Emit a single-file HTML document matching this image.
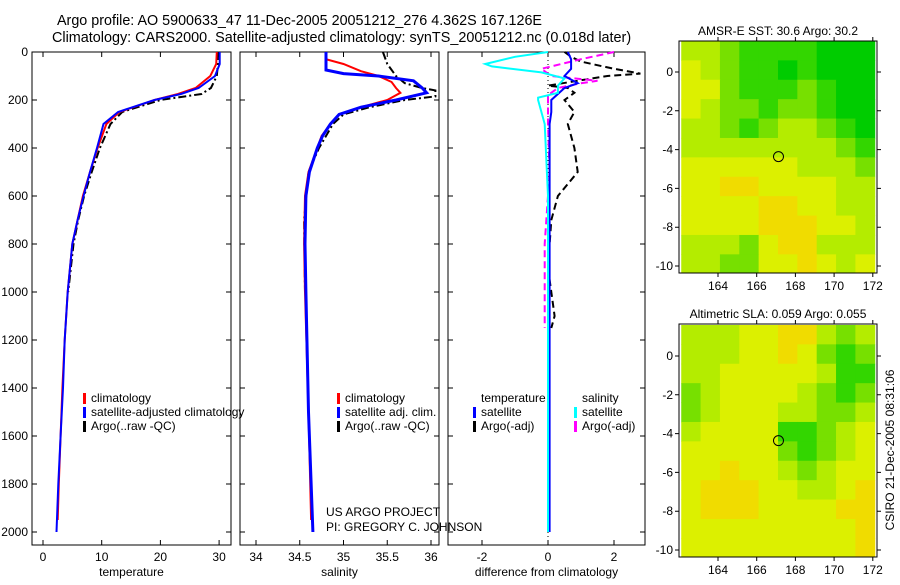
<!DOCTYPE html>
<html><head><meta charset="utf-8"><style>
body{margin:0;background:#fff;width:900px;height:580px;overflow:hidden}
svg text{font-family:"Liberation Sans",sans-serif;font-size:12px;fill:#000}
svg text.tt{font-size:14.4px}
</style></head><body>
<svg id="chart" width="900" height="580" xmlns="http://www.w3.org/2000/svg">
<text class="tt" x="57" y="25" textLength="485" lengthAdjust="spacingAndGlyphs">Argo profile: AO 5900633_47 11-Dec-2005 20051212_276 4.362S 167.126E</text>
<text class="tt" x="52" y="42">Climatology: CARS2000. Satellite-adjusted climatology: synTS_20051212.nc (0.018d later)</text>
<text x="326" y="516">US ARGO PROJECT</text>
<text x="326" y="531">PI: GREGORY C. JOHNSON</text>
<text transform="translate(894,450) rotate(-90)" text-anchor="middle">CSIRO 21-Dec-2005 08:31:06</text>
<g id="g"></g>
</svg>
<script>
// ---- data ----
const depthClim=[0,50,100,150,175,200,250,300,400,500,600,700,800,1000,1200,1400,1600,1800,1950];
const tempClim=[29.6,29.5,28.5,26,23,19,13,10.8,9.3,8.0,6.8,5.9,5.0,4.2,3.7,3.3,3.0,2.7,2.5];
const depthSat=[0,50,100,150,175,200,250,300,400,500,600,700,800,1000,1200,1400,1600,1800,2000];
const tempSat=[30.1,30.1,29.3,26.5,23.5,19,12.8,10.3,9.2,8.0,6.9,5.9,5.0,4.2,3.7,3.4,3.0,2.6,2.3];
const depthArgo=[0,50,100,150,175,200,250,300,400,500,600,700,800,1000];
const tempArgo=[29.8,29.8,29.6,28.6,27,20,13.5,11.5,9.7,8.3,7.0,6.0,5.2,4.3];
const salDepthClim=[0,30,50,80,100,125,150,170,200,230,260,300,350,400,500,600,800,1000,1500,1950];
const salClim=[34.8,34.8,35.0,35.2,35.4,35.55,35.6,35.65,35.5,35.2,34.95,34.85,34.75,34.7,34.6,34.56,34.55,34.56,34.6,34.63];
const salDepthSat=[0,75,90,100,120,150,170,200,230,260,300,350,400,500,600,800,1000,1500,2000];
const salSat=[34.8,34.8,35.0,35.4,35.8,35.9,35.95,35.6,35.2,34.95,34.85,34.76,34.7,34.61,34.57,34.56,34.57,34.6,34.65];
const salDepthArgo=[0,50,100,130,150,160,185,200,230,260,300,400,500,700,1000];
const salArgo=[35.45,35.5,35.6,35.7,35.9,36.05,36.05,35.7,35.3,35.0,34.88,34.72,34.6,34.55,34.56];
const dTDepthSat=[0,30,70,100,130,150,200,250,300,600,1000,1500,2000];
const dTSat=[0.6,0.7,0.7,0.5,0.9,0.5,0.1,0.1,0.05,0.05,0.05,0.05,0.05];
const dTDepthArgo=[0,20,40,70,90,100,140,150,170,200,250,300,400,500,600,700,900,1000,1100,1150];
const dTArgo=[0.5,0.7,1.0,2.0,2.8,1.8,0.0,0.6,0.8,0.5,0.8,0.6,0.8,0.9,0.3,0.1,0,0.1,0.2,0.1];
const dSDepthSat=[0,20,50,60,85,110,140,170,190,200,300,600,2000];
const dSSat=[0.0,-1.0,-1.9,-1.7,-0.2,0.5,0.3,0.3,-0.3,-0.3,-0.1,0,0];
const dSDepthArgo=[0,30,70,100,120,130,150,180,300,500,800,1000,1150];
const dSArgo=[2.0,1.0,-0.2,0.1,1.5,1.0,0.3,0.0,0.0,0.05,-0.1,-0.1,-0.1];
const depthTicks=[0,200,400,600,800,1000,1200,1400,1600,1800,2000];
const tempTicks=[0,10,20,30];
const salTicks=[34,34.5,35,35.5,36];
const diffTicks=[-2,0,2];
const lonTicks=[164,166,168,170,172];
const latTicks=[0,-2,-4,-6,-8,-10];
// map cells: rows lat 1..-10 (1 deg), cols lon 162..171
const sstGrid=[[3,3,2,1,1,1,1,0,0,0],[4,3,2,1,1,0,1,0,0,0],[4,4,2,1,1,1,2,1,0,0],[4,3,2,2,1,2,2,1,0,0],[3,3,2,1,2,3,3,2,1,0],[3,3,3,3,3,3,3,3,2,1],[4,4,4,4,4,4,3,3,3,2],[4,4,5,5,4,4,4,4,3,3],[4,4,4,4,5,5,4,4,3,3],[4,4,4,4,5,5,5,4,4,3],[3,3,3,2,4,5,5,3,3,3],[3,3,2,2,4,4,5,4,3,4]];
const slaGrid=[[3,3,3,4,4,5,5,3,2,3],[3,3,3,4,4,5,4,2,1,2],[3,3,4,4,4,4,4,3,1,1],[2,3,4,4,4,4,3,2,1,2],[2,3,4,4,4,3,3,2,2,3],[3,4,4,4,4,1,1,2,3,4],[4,4,4,4,4,2,1,2,3,4],[4,4,5,4,4,3,2,3,4,4],[4,5,5,5,4,4,3,3,4,5],[4,5,5,5,4,4,4,4,5,5],[4,4,4,4,4,4,4,4,4,5],[4,4,4,4,4,4,4,4,4,5]];
const floatLon=167.126, floatLat=-4.362;
const cmap=["#00cc00","#33d600","#77e000","#b4ec00","#dcf000","#f0dc00","#ffaa00"];

const NS="http://www.w3.org/2000/svg";
const G=document.getElementById('g');
function el(t,a,txt){const e=document.createElementNS(NS,t);for(const k in a)e.setAttribute(k,a[k]);if(txt!==undefined)e.textContent=txt;G.appendChild(e);return e;}
const Y=d=>52+d*0.24;
function panel(name,x0,x1,sx,xt,xlabel,leftLabels){
  const f=el('rect',{x:x0,y:52,width:x1-x0,height:493,fill:'none',stroke:'#000','stroke-width':1});
  
  
  depthTicks.forEach(d=>{
    const y=Y(d);
    const t=el('path',{d:`M${x0},${y}h5M${x1},${y}h-5`,stroke:'#000'});
    
    
    if(leftLabels){const l=el('text',{x:x0-4,y:y+4,'text-anchor':'end'},d);
      
      }
  });
  xt.forEach(v=>{
    const x=sx(v);
    const t=el('path',{d:`M${x},52v5M${x},545v-5`,stroke:'#000'});
    
    
    const l=el('text',{x:x,y:561,'text-anchor':'middle'},v);
    
    
  });
  const xl=el('text',{x:(x0+x1)/2,y:576,'text-anchor':'middle'},xlabel);
  
  
}
function line(name,ds,vs,sx,color,w,dash){
  const p=ds.map((d,i)=>(i?'L':'M')+sx(vs[i]).toFixed(1)+','+Y(d).toFixed(1)).join('');
  const a={d:p,fill:'none',stroke:color,'stroke-width':w};
  if(dash)a['stroke-dasharray']=dash;
  const e=el('path',a);
  
  
}
function legend(name,x,y,color,txt){
  const m=el('rect',{x:x,y:y-9,width:3,height:11,fill:color});
  
  
  const t=el('text',{x:x+8,y:y},txt);
  
  
}
// panel 1 temperature
const sT=v=>43+5.87*v;
panel('temperature-panel',32,231,sT,tempTicks,'temperature',true);
line('temp-argo-line',depthArgo,tempArgo,sT,'#000',2,'8,3,2,3');
line('temp-clim-line',depthClim,tempClim,sT,'#f00',2);
line('temp-sat-line',depthSat,tempSat,sT,'#00f',2);
legend('legend-climatology',83,402,'#f00','climatology');
legend('legend-satellite-adjusted',83,416,'#00f','satellite-adjusted climatology');
legend('legend-argo-raw',83,430,'#000','Argo(..raw -QC)');
// panel 2 salinity
const sS=v=>256+87.5*(v-34);
panel('salinity-panel',240,439,sS,salTicks,'salinity',false);
line('sal-argo-line',salDepthArgo,salArgo,sS,'#000',2,'8,3,2,3');
line('sal-clim-line',salDepthClim,salClim,sS,'#f00',2);
line('sal-sat-line',salDepthSat,salSat,sS,'#00f',3);
legend('legend-sal-climatology',337,402,'#f00','climatology');
legend('legend-sal-satellite',337,416,'#00f','satellite adj. clim.');
legend('legend-sal-argo',337,430,'#000','Argo(..raw -QC)');
// panel 3 differences
const sD=v=>548+33*v;
panel('difference-panel',448,645,sD,diffTicks,'difference from climatology',false);
const z=el('path',{d:`M${sD(0)},52V545`,stroke:'#000','stroke-dasharray':'1,3'});


line('dT-argo-line',dTDepthArgo,dTArgo,sD,'#000',2,'7,4');
line('dS-argo-line',dSDepthArgo,dSArgo,sD,'#f0f',2,'7,4');
line('dT-sat-line',dTDepthSat,dTSat,sD,'#00f',2);
line('dS-sat-line',dSDepthSat,dSSat,sD,'#0ff',2);
const lt=el('text',{x:481,y:402},'temperature');
const ls=el('text',{x:582,y:402},'salinity');
legend('legend-dT-satellite',473,416,'#00f','satellite');
legend('legend-dT-argo',473,430,'#000','Argo(-adj)');
legend('legend-dS-satellite',574,416,'#0ff','satellite');
legend('legend-dS-argo',574,430,'#f0f','Argo(-adj)');
// maps
function map(name,top,bottom,lat0y,grid,title){
  const mx=lon=>718+(lon-164)*19.35;
  const my=lat=>lat0y-lat*19.4;
  grid.forEach((row,r)=>row.forEach((v,c)=>{
    const lat=1.6-r, lon=162.1+c;
    const y1=Math.max(top,my(lat)), y2=Math.min(bottom,my(lat-1));
    const cell=el('rect',{x:mx(lon),y:y1,width:mx(lon+1)-mx(lon)+0.5,height:y2-y1+0.5,fill:cmap[v]});
    
    
  }));
  const f=el('rect',{x:679,y:top,width:198,height:bottom-top,fill:'none',stroke:'#000'});
  
  
  lonTicks.forEach(v=>{const x=mx(v);
    const t=el('path',{d:`M${x},${top}v-4M${x},${bottom}v4`,stroke:'#000'});
    
    
    const l=el('text',{x:x,y:bottom+17,'text-anchor':'middle'},v);
    
    });
  latTicks.forEach(v=>{const y=my(v);
    const t=el('path',{d:`M679,${y}h-4M877,${y}h4`,stroke:'#000'});
    
    
    const l=el('text',{x:673,y:y+4,'text-anchor':'end'},v);
    
    });
  const c=el('circle',{cx:mx(floatLon),cy:my(floatLat),r:5,fill:'none',stroke:'#000'});
  
  
  const t=el('text',{x:778,y:top-6,'text-anchor':'middle'},title);
  
  
}
map('sst-map',41,273,72,sstGrid,'AMSR-E SST: 30.6 Argo: 30.2');
map('sla-map',324,557,356,slaGrid,'Altimetric SLA: 0.059 Argo: 0.055');
</script>
</body></html>
